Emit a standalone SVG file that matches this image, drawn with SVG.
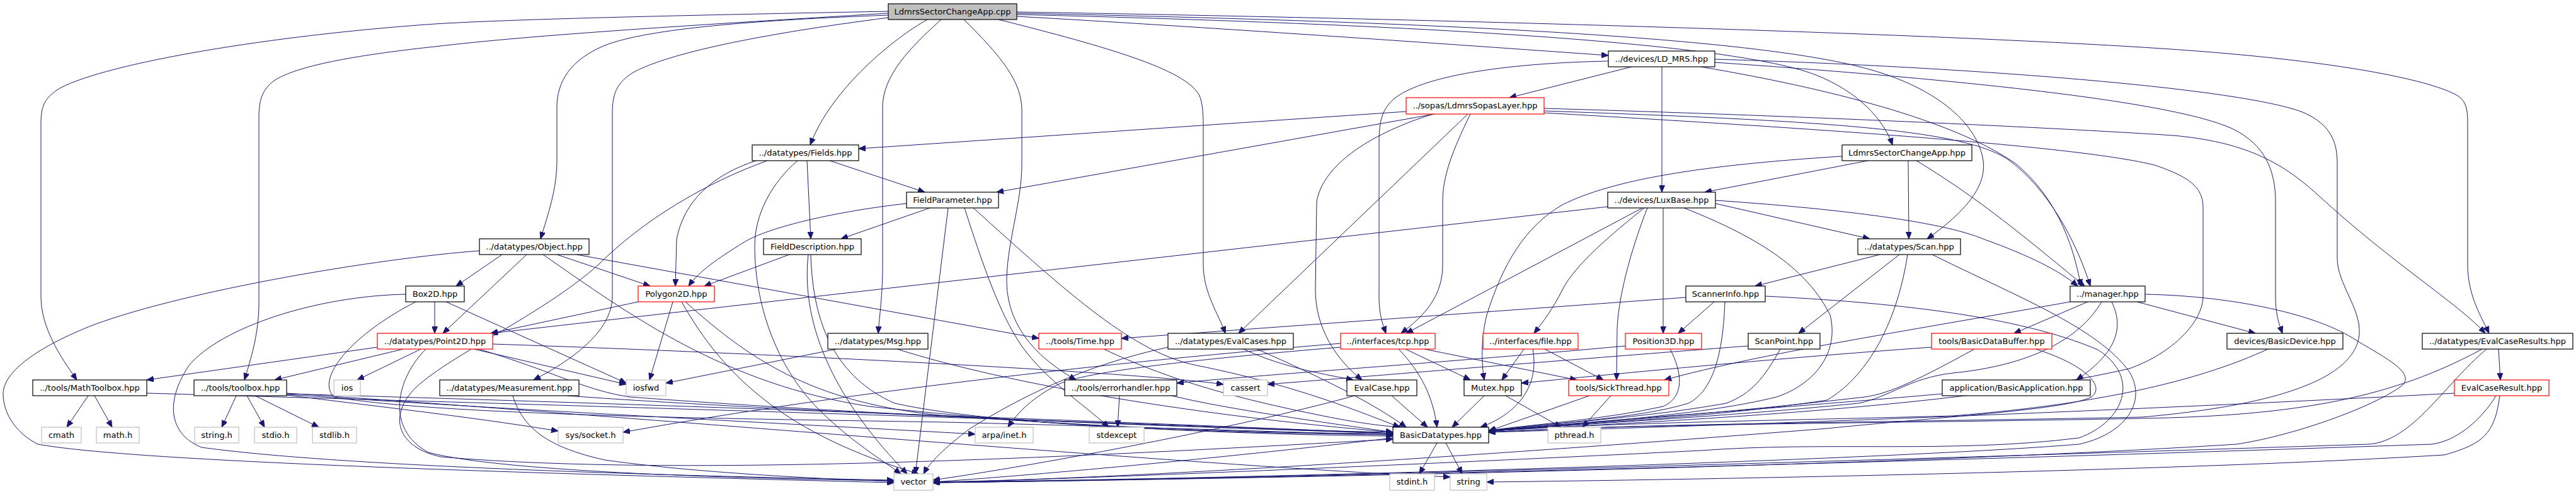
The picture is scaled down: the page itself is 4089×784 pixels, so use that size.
<svg xmlns="http://www.w3.org/2000/svg" width="4089" height="784" viewBox="0 0 4089 784">
<defs>
<style>
.n rect{fill:#ffffff;stroke:#000000;stroke-width:1.2}
.r rect{fill:#ffffff;stroke:#ff0000;stroke-width:1.2}
.g rect{fill:#ffffff;stroke:#bfbfbf;stroke-width:1.2}
.root rect{fill:#bfbfbf;stroke:#000000;stroke-width:1.2}
text{font-family:"DejaVu Sans","Liberation Sans",sans-serif;font-size:13px;text-anchor:middle;fill:#000000}
#edges path{fill:none;stroke:#191970;stroke-width:1;marker-end:url(#arr)}
</style>
<marker id="arr" markerUnits="userSpaceOnUse" markerWidth="12" markerHeight="9" refX="11" refY="4.5" orient="auto"><path d="M0,0 L11,4.5 L0,9 z" fill="#191970" stroke="#191970" stroke-width="1"/></marker>
</defs>
<rect x="0" y="0" width="4089" height="784" fill="#ffffff"/>
<g id="edges">
<path d="M1410,18 C1100,24 820,30 690,38 C430,56 170,100 95,140 C70,155 65,170 65,195 L65,470 C65,520 95,565 122,603"/>
<path d="M1410,21 C1100,40 850,55 690,74 C560,88 470,105 435,128 C416,142 411,160 411,185 L411,480 C411,530 398,570 388,603"/>
<path d="M1410,24 C1200,32 1030,45 960,72 C905,95 884,130 884,170 L884,255 C884,300 870,340 858,379"/>
<path d="M1410,28 C1200,55 1060,85 1005,115 C978,132 972,150 972,180 L972,470 C972,515 930,560 847,603"/>
<path d="M1472,31 C1420,60 1320,140 1286,230"/>
<path d="M1494,31 C1445,75 1401,120 1401,170 L1401,420 C1401,470 1396,500 1394,529"/>
<path d="M1530,31 C1590,90 1622,130 1622,175 L1622,260 C1622,320 1600,380 1598,440 C1596,520 1650,570 1708,603"/>
<path d="M1585,31 C1760,75 1880,110 1903,150 C1909,162 1910,180 1910,200 L1910,420 C1910,465 1935,500 1945,529"/>
<path d="M1614,26 C1900,42 2300,70 2553,88"/>
<path d="M1614,23 C2300,40 2750,70 2880,118 C2950,145 2990,190 3004,230"/>
<path d="M1614,21 C2300,35 2780,60 2960,108 C3080,140 3140,200 3148,255 C3155,305 3100,350 3059,379"/>
<path d="M1614,19 C2400,32 3200,58 3500,82 C3750,102 3870,132 3903,153 C3915,162 3917,175 3917,195 L3917,420 C3917,470 3940,505 3951,529"/>
<path d="M2590,106 L2396,155"/>
<path d="M2638,106 L2638,305"/>
<path d="M2553,97 C2400,100 2265,118 2215,155 C2194,172 2189,192 2189,225 L2189,470 C2189,500 2195,515 2200,529"/>
<path d="M2700,106 C2900,140 3100,190 3200,260 C3260,310 3290,380 3303,454"/>
<path d="M2722,99 C3100,125 3450,160 3545,205 C3595,230 3612,270 3612,320 L3612,470 C3612,500 3618,515 3623,529"/>
<path d="M2722,94 C3100,105 3550,138 3655,178 C3702,198 3710,228 3710,260 L3710,410 C3710,450 3748,490 3745,530 C3740,590 3650,640 3400,662 C3000,670 2600,672 2363,686"/>
<path d="M2232,177 L1363,236"/>
<path d="M2277,181 L1582,305"/>
<path d="M2334,181 C2305,240 2290,280 2290,320 L2290,420 C2290,470 2262,500 2224,529"/>
<path d="M2275,181 C2180,210 2100,260 2090,320 L2088,460 C2088,520 2120,570 2162,603"/>
<path d="M2330,181 L1966,529"/>
<path d="M2451,172 C2900,185 3300,205 3450,215 C3560,225 3620,255 3680,310 C3800,420 3900,480 3945,529"/>
<path d="M2451,176 C2900,192 3120,205 3190,255 C3250,300 3295,380 3318,454"/>
<path d="M2451,179 C2900,205 3300,232 3420,262 C3480,282 3497,300 3497,330 L3497,470 C3497,510 3450,560 3380,585 C3100,650 2600,670 2363,684"/>
<path d="M1317,255 L1468,305"/>
<path d="M1281,255 L1287,379"/>
<path d="M1200,255 C1130,278 1085,320 1074,380 L1072,454"/>
<path d="M1218,255 C1120,290 1020,350 950,420 C860,500 720,560 660,615 C615,660 630,710 700,725 C1100,760 1800,720 2211,697"/>
<path d="M1266,255 C1225,290 1198,340 1198,390 C1198,480 1230,580 1300,650 C1350,700 1400,730 1430,752"/>
<path d="M1476,330 L1335,379"/>
<path d="M1439,323 C1330,335 1220,360 1180,385 C1140,410 1110,430 1093,454"/>
<path d="M1505,330 L1453,752"/>
<path d="M1531,330 C1560,420 1590,510 1630,560 C1670,610 1730,650 1760,678"/>
<path d="M1545,330 C1700,470 1800,560 1900,580 C2050,610 2150,650 2222,678"/>
<path d="M1253,404 L1118,454"/>
<path d="M1283,404 C1270,520 1330,640 1440,752"/>
<path d="M1287,404 C1290,520 1330,600 1420,640 C1600,680 2000,688 2211,690"/>
<path d="M797,404 L724,454"/>
<path d="M836,404 L703,529"/>
<path d="M884,404 L1032,454"/>
<path d="M915,404 L1649,537"/>
<path d="M761,398 C600,410 300,460 150,515 C60,550 5,590 5,625 C5,660 30,690 60,705 C200,730 700,748 1419,766"/>
<path d="M862,404 C1000,500 1150,610 1380,645 C1700,680 2000,690 2211,692"/>
<path d="M690,479 L690,529"/>
<path d="M708,479 L994,608"/>
<path d="M644,467 C500,470 350,520 300,580 C260,640 270,690 320,710 C500,735 900,752 1419,762"/>
<path d="M660,479 C560,530 500,600 530,630 C700,660 1200,665 1500,670 C1900,680 2100,688 2211,690"/>
<path d="M599,551 L233,603"/>
<path d="M640,554 L436,603"/>
<path d="M668,554 L567,603"/>
<path d="M676,554 C630,600 610,680 680,718 C800,750 1200,760 1419,763"/>
<path d="M752,554 L994,610"/>
<path d="M782,546 C1200,560 1800,590 1942,610"/>
<path d="M760,554 C880,590 930,620 1000,630 C1400,660 1900,680 2211,686"/>
<path d="M1013,479 L779,529"/>
<path d="M1068,479 L1031,603"/>
<path d="M1082,479 C1150,600 1250,690 1458,752"/>
<path d="M1088,479 C1200,580 1300,640 1500,660 C1800,680 2000,688 2211,688"/>
<path d="M1328,554 L1057,608"/>
<path d="M1424,554 C1600,610 1900,660 2211,686"/>
<path d="M1752,554 C1850,600 1950,630 2100,660 C2150,670 2190,676 2225,678"/>
<path d="M1854,551 C1720,580 1620,630 1540,680 C1500,710 1475,735 1466,752"/>
<path d="M1974,554 C2040,585 2110,595 2148,603"/>
<path d="M1995,554 C2100,600 2180,640 2232,678"/>
<path d="M2220,554 C2255,590 2275,630 2281,678"/>
<path d="M2231,554 L2334,603"/>
<path d="M2261,554 L2503,603"/>
<path d="M2128,551 C1900,570 1720,590 1680,610 C1640,630 1615,655 1600,678"/>
<path d="M2128,545 C1700,580 1300,630 989,686"/>
<path d="M2419,554 L2384,603"/>
<path d="M2452,554 L2545,603"/>
<path d="M2433,554 C2445,620 2400,660 2350,678"/>
<path d="M2651,554 C2670,590 2675,630 2640,645 C2550,665 2450,672 2363,683"/>
<path d="M2580,549 C2300,575 2000,595 1868,608"/>
<path d="M2676,472 L1780,537"/>
<path d="M2721,479 L2664,529"/>
<path d="M2738,479 C2735,560 2720,620 2680,640 C2600,665 2450,672 2363,684"/>
<path d="M2802,470 C3000,480 3200,500 3330,555 C3400,600 3370,670 3300,695 C3100,720 2900,700 2700,715 C2200,740 1700,760 1481,766"/>
<path d="M2984,404 L2786,454"/>
<path d="M3015,404 L2855,529"/>
<path d="M3028,404 C3010,520 2960,600 2900,635 C2700,665 2500,672 2363,684"/>
<path d="M3067,404 C3200,470 3330,520 3380,590 C3410,640 3370,690 3300,705 C3000,730 2000,760 1481,765"/>
<path d="M2826,554 C2800,600 2780,625 2740,640 C2600,665 2450,672 2363,684"/>
<path d="M2775,549 C2500,570 2200,595 2012,610"/>
<path d="M3314,479 L3197,529"/>
<path d="M3352,479 C3372,520 3360,560 3296,603"/>
<path d="M3286,479 C3000,530 2800,560 2642,603"/>
<path d="M3392,479 L3580,529"/>
<path d="M3336,479 C3300,540 3220,580 3100,592 C3030,600 3000,630 2950,640 C2700,665 2500,672 2363,685"/>
<path d="M3405,467 C3550,470 3680,500 3740,540 C3790,570 3830,590 3815,610 C3780,640 3650,690 3550,705 C3000,740 2000,760 1481,766"/>
<path d="M3066,551 C2800,570 2550,595 2415,608"/>
<path d="M3134,554 C3050,600 3000,625 2960,630 C2700,660 2500,672 2363,684"/>
<path d="M3231,554 C3300,575 3345,610 3320,630 C3280,650 3100,660 2900,680 C2400,720 1800,760 1481,765"/>
<path d="M3083,625 C2800,650 2500,670 2363,684"/>
<path d="M3600,554 C3500,600 3350,640 3100,660 C2800,668 2500,672 2363,685"/>
<path d="M3966,554 L3969,603"/>
<path d="M3940,554 C3800,630 3650,660 3400,664 C3000,672 2600,672 2363,686"/>
<path d="M3947,554 C3880,610 3830,700 3760,705 C3000,730 2000,760 1481,766"/>
<path d="M3896,624 C3600,640 3000,668 2363,686"/>
<path d="M3962,628 C3940,665 3900,700 3860,705 C3000,735 2000,760 1481,766"/>
<path d="M3968,628 C3960,690 3940,705 3880,722 C3500,745 2800,760 2360,765"/>
<path d="M2552,328 L779,529"/>
<path d="M2607,330 L2232,529"/>
<path d="M2610,330 C2560,370 2500,420 2480,460 C2465,490 2450,510 2435,529"/>
<path d="M2615,330 C2595,380 2570,460 2567,520 L2566,603"/>
<path d="M2640,330 L2640,529"/>
<path d="M2723,323 L2968,379"/>
<path d="M2723,318 C2900,330 3080,350 3150,380 C3220,405 3270,430 3298,454"/>
<path d="M2673,330 C2800,380 2870,430 2905,500 C2920,560 2880,610 2820,630 C2700,660 2500,672 2363,684"/>
<path d="M2965,255 L2706,305"/>
<path d="M3029,255 L3030,379"/>
<path d="M3042,255 C3150,320 3230,390 3309,454"/>
<path d="M2924,248 C2700,262 2560,285 2480,325 C2420,360 2385,420 2360,500 C2350,540 2352,580 2356,603"/>
<path d="M375,628 L352,678"/>
<path d="M392,628 L420,678"/>
<path d="M405,628 L506,678"/>
<path d="M455,627 C600,645 750,662 886,684"/>
<path d="M455,626 C800,650 1300,675 1548,689"/>
<path d="M455,625 C1000,640 1800,670 2211,688"/>
<path d="M455,624 C1000,660 1900,740 2302,757"/>
<path d="M140,628 L106,678"/>
<path d="M150,628 L178,678"/>
<path d="M233,624 C800,640 1800,670 2211,688"/>
<path d="M900,628 C1200,650 1800,675 2211,688"/>
<path d="M814,628 C830,680 870,710 960,730 C1100,750 1300,760 1419,764"/>
<path d="M1777,628 L1774,678"/>
<path d="M1860,628 C1950,650 2100,670 2211,686"/>
<path d="M2209,628 L2266,678"/>
<path d="M2150,628 C2000,670 1700,730 1481,762"/>
<path d="M2356,628 L2305,678"/>
<path d="M2390,628 L2478,678"/>
<path d="M2557,628 L2512,678"/>
<path d="M2523,628 L2363,684"/>
<path d="M2281,703 L2253,752"/>
<path d="M2295,703 L2321,752"/>
<path d="M2211,695 C2000,720 1700,750 1481,765"/>
</g>
<g id="n_root" class="root"><rect x="1410" y="6" width="204" height="25"/><text x="1512" y="23">LdmrsSectorChangeApp.cpp</text></g>
<g id="n_ldmrs" class="n"><rect x="2553" y="81" width="169" height="25"/><text x="2637.5" y="98">../devices/LD_MRS.hpp</text></g>
<g id="n_sopas" class="r"><rect x="2232" y="155" width="219" height="26"/><text x="2341.5" y="172">../sopas/LdmrsSopasLayer.hpp</text></g>
<g id="n_fields" class="n"><rect x="1194" y="230" width="169" height="25"/><text x="1278.5" y="247">../datatypes/Fields.hpp</text></g>
<g id="n_apph" class="n"><rect x="2924" y="230" width="206" height="25"/><text x="3027" y="247">LdmrsSectorChangeApp.hpp</text></g>
<g id="n_fpar" class="n"><rect x="1439" y="305" width="146" height="25"/><text x="1512" y="322">FieldParameter.hpp</text></g>
<g id="n_lux" class="n"><rect x="2552" y="305" width="171" height="25"/><text x="2637.5" y="322">../devices/LuxBase.hpp</text></g>
<g id="n_obj" class="n"><rect x="761" y="379" width="174" height="25"/><text x="848" y="396">../datatypes/Object.hpp</text></g>
<g id="n_fdesc" class="n"><rect x="1212" y="379" width="155" height="25"/><text x="1289.5" y="396">FieldDescription.hpp</text></g>
<g id="n_scan" class="n"><rect x="2949" y="379" width="163" height="25"/><text x="3030.5" y="396">../datatypes/Scan.hpp</text></g>
<g id="n_box" class="n"><rect x="644" y="454" width="93" height="25"/><text x="690.5" y="471">Box2D.hpp</text></g>
<g id="n_poly" class="r"><rect x="1013" y="454" width="121" height="25"/><text x="1073.5" y="471">Polygon2D.hpp</text></g>
<g id="n_sinfo" class="n"><rect x="2676" y="454" width="126" height="25"/><text x="2739" y="471">ScannerInfo.hpp</text></g>
<g id="n_mgr" class="n"><rect x="3286" y="454" width="119" height="25"/><text x="3345.5" y="471">../manager.hpp</text></g>
<g id="n_pt2d" class="r"><rect x="599" y="529" width="183" height="25"/><text x="690.5" y="546">../datatypes/Point2D.hpp</text></g>
<g id="n_msg" class="n"><rect x="1314" y="529" width="159" height="25"/><text x="1393.5" y="546">../datatypes/Msg.hpp</text></g>
<g id="n_time" class="r"><rect x="1649" y="529" width="131" height="25"/><text x="1714.5" y="546">../tools/Time.hpp</text></g>
<g id="n_evcs" class="n"><rect x="1854" y="529" width="199" height="25"/><text x="1953.5" y="546">../datatypes/EvalCases.hpp</text></g>
<g id="n_tcp" class="r"><rect x="2128" y="529" width="150" height="25"/><text x="2203" y="546">../interfaces/tcp.hpp</text></g>
<g id="n_file" class="r"><rect x="2354" y="529" width="151" height="25"/><text x="2429.5" y="546">../interfaces/file.hpp</text></g>
<g id="n_pos3d" class="r"><rect x="2580" y="529" width="121" height="25"/><text x="2640.5" y="546">Position3D.hpp</text></g>
<g id="n_spt" class="n"><rect x="2775" y="529" width="114" height="25"/><text x="2832" y="546">ScanPoint.hpp</text></g>
<g id="n_bdb" class="r"><rect x="3066" y="529" width="191" height="25"/><text x="3161.5" y="546">tools/BasicDataBuffer.hpp</text></g>
<g id="n_bdev" class="n"><rect x="3535" y="529" width="184" height="25"/><text x="3627" y="546">devices/BasicDevice.hpp</text></g>
<g id="n_ecrs" class="n"><rect x="3845" y="529" width="239" height="25"/><text x="3964.5" y="546">../datatypes/EvalCaseResults.hpp</text></g>
<g id="n_math" class="n"><rect x="52" y="603" width="181" height="25"/><text x="142.5" y="620">../tools/MathToolbox.hpp</text></g>
<g id="n_tool" class="n"><rect x="308" y="603" width="147" height="25"/><text x="381.5" y="620">../tools/toolbox.hpp</text></g>
<g id="n_ios" class="g"><rect x="530" y="603" width="42" height="25"/><text x="551" y="620">ios</text></g>
<g id="n_meas" class="n"><rect x="698" y="603" width="221" height="25"/><text x="808.5" y="620">../datatypes/Measurement.hpp</text></g>
<g id="n_iosfwd" class="g"><rect x="994" y="603" width="63" height="25"/><text x="1025.5" y="620">iosfwd</text></g>
<g id="n_err" class="n"><rect x="1690" y="603" width="178" height="25"/><text x="1779" y="620">../tools/errorhandler.hpp</text></g>
<g id="n_cass" class="g"><rect x="1942" y="603" width="70" height="25"/><text x="1977" y="620">cassert</text></g>
<g id="n_evc" class="n"><rect x="2138" y="603" width="111" height="25"/><text x="2193.5" y="620">EvalCase.hpp</text></g>
<g id="n_mutex" class="n"><rect x="2324" y="603" width="91" height="25"/><text x="2369.5" y="620">Mutex.hpp</text></g>
<g id="n_sick" class="r"><rect x="2490" y="603" width="159" height="25"/><text x="2569.5" y="620">tools/SickThread.hpp</text></g>
<g id="n_bapp" class="n"><rect x="3083" y="603" width="235" height="25"/><text x="3200.5" y="620">application/BasicApplication.hpp</text></g>
<g id="n_ecr" class="r"><rect x="3896" y="603" width="150" height="25"/><text x="3971" y="620">EvalCaseResult.hpp</text></g>
<g id="n_cmath" class="g"><rect x="66" y="678" width="63" height="25"/><text x="97.5" y="695">cmath</text></g>
<g id="n_mathh" class="g"><rect x="153" y="678" width="68" height="25"/><text x="187" y="695">math.h</text></g>
<g id="n_strh" class="g"><rect x="309" y="678" width="70" height="25"/><text x="344" y="695">string.h</text></g>
<g id="n_stdio" class="g"><rect x="404" y="678" width="67" height="25"/><text x="437.5" y="695">stdio.h</text></g>
<g id="n_stdlib" class="g"><rect x="496" y="678" width="70" height="25"/><text x="531" y="695">stdlib.h</text></g>
<g id="n_sock" class="g"><rect x="886" y="678" width="103" height="25"/><text x="937.5" y="695">sys/socket.h</text></g>
<g id="n_arpa" class="g"><rect x="1548" y="678" width="92" height="25"/><text x="1594" y="695">arpa/inet.h</text></g>
<g id="n_stdexc" class="g"><rect x="1729" y="678" width="87" height="25"/><text x="1772.5" y="695">stdexcept</text></g>
<g id="n_bdt" class="n"><rect x="2211" y="678" width="152" height="25"/><text x="2287" y="695">BasicDatatypes.hpp</text></g>
<g id="n_pth" class="g"><rect x="2457" y="678" width="84" height="25"/><text x="2499" y="695">pthread.h</text></g>
<g id="n_vec" class="g"><rect x="1419" y="752" width="62" height="26"/><text x="1450" y="769">vector</text></g>
<g id="n_stdint" class="g"><rect x="2206" y="752" width="71" height="26"/><text x="2241.5" y="769">stdint.h</text></g>
<g id="n_str" class="g"><rect x="2302" y="752" width="58" height="26"/><text x="2331" y="769">string</text></g>
</svg>
